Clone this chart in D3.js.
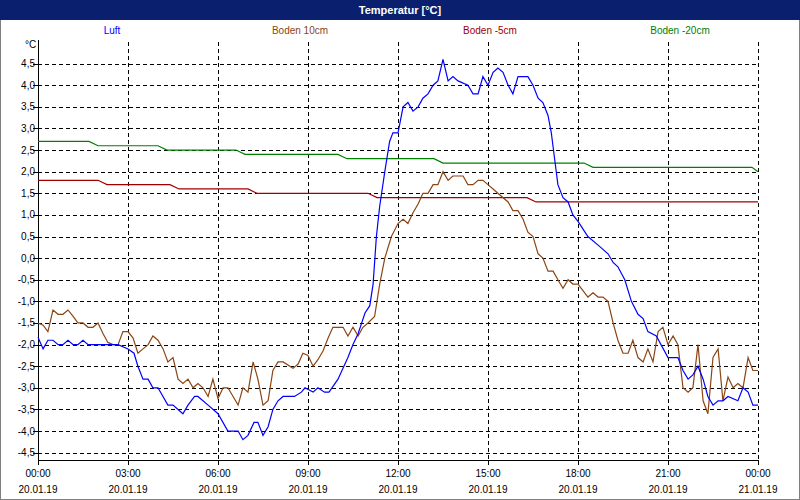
<!DOCTYPE html>
<html><head><meta charset="utf-8">
<script src="https://cdn.jsdelivr.net/npm/d3@7"></script>
<style>body{margin:0;background:#fff}svg{display:block}text{font-family:"Liberation Sans",Arial,sans-serif;font-size:10px}</style>
</head><body><svg id="c" width="800" height="500"></svg>
<script>
const seriesNames=["Luft","Boden 10cm","Boden -5cm","Boden -20cm"];
const seriesColors=["#0000ff","#8b4513","#a00000","#008000"];
const yTicks=[-4.5,-4,-3.5,-3,-2.5,-2,-1.5,-1,-0.5,0,0.5,1,1.5,2,2.5,3,3.5,4,4.5];
const xTickHours=[0,3,6,9,12,15,18,21,24];
const xTimeLabels=["00:00","03:00","06:00","09:00","12:00","15:00","18:00","21:00","00:00"];
const xDateLabels=["20.01.19","20.01.19","20.01.19","20.01.19","20.01.19","20.01.19","20.01.19","20.01.19","21.01.19"];
const luft=[[0,-1.83],[0.17,-2.1],[0.33,-1.9],[0.5,-1.9],[0.67,-2.0],[0.83,-2.0],[1,-1.9],[1.17,-2.0],[1.33,-2.0],[1.5,-1.9],[1.67,-2.0],[2.67,-2.0],[3,-2.1],[3.2,-2.2],[3.33,-2.5],[3.5,-2.8],[3.67,-2.8],[3.83,-3.0],[4,-3.0],[4.33,-3.4],[4.5,-3.4],[4.83,-3.6],[5,-3.4],[5.22,-3.2],[5.33,-3.2],[5.67,-3.4],[6,-3.6],[6.33,-4.0],[6.67,-4.0],[6.83,-4.2],[7,-4.1],[7.2,-3.8],[7.33,-3.8],[7.5,-4.1],[7.67,-3.9],[7.83,-3.5],[8,-3.3],[8.17,-3.2],[8.55,-3.2],[8.78,-3.1],[8.9,-3.0],[9.17,-3.1],[9.33,-3.0],[9.55,-3.1],[9.7,-3.1],[10,-2.8],[10.33,-2.3],[10.5,-2.0],[10.67,-1.75],[10.9,-1.27],[11.06,-1.1],[11.17,-0.6],[11.28,0.5],[11.39,1.2],[11.56,2.0],[11.72,2.7],[11.83,2.9],[12,2.9],[12.17,3.5],[12.33,3.6],[12.5,3.4],[12.67,3.5],[12.83,3.7],[13,3.8],[13.17,4.0],[13.33,4.1],[13.5,4.6],[13.67,4.1],[13.83,4.2],[14,4.1],[14.33,4.0],[14.5,3.8],[14.67,3.8],[14.83,4.2],[15,4.0],[15.17,4.3],[15.33,4.4],[15.5,4.3],[15.67,4.0],[15.83,3.8],[16,4.2],[16.33,4.2],[16.5,4.0],[16.67,3.7],[16.83,3.6],[17,3.3],[17.11,2.9],[17.22,2.3],[17.33,1.7],[17.5,1.4],[17.67,1.3],[17.83,1.0],[18,0.85],[18.33,0.5],[18.67,0.3],[19,0.1],[19.17,-0.1],[19.33,-0.2],[19.56,-0.5],[19.78,-1.0],[20,-1.3],[20.17,-1.4],[20.33,-1.7],[20.61,-1.8],[21,-2.3],[21.33,-2.3],[21.5,-2.6],[21.67,-2.8],[21.83,-2.7],[22,-2.5],[22.17,-2.8],[22.33,-3.2],[22.5,-3.4],[22.67,-3.3],[22.83,-3.3],[23,-3.2],[23.33,-3.3],[23.5,-3.0],[23.67,-3.1],[23.83,-3.4],[24,-3.4]];
const boden10=[[0,-1.5],[0.17,-1.55],[0.33,-1.7],[0.5,-1.2],[0.67,-1.3],[0.83,-1.3],[1,-1.2],[1.17,-1.35],[1.33,-1.5],[1.5,-1.5],[1.67,-1.6],[1.83,-1.6],[2,-1.5],[2.17,-1.75],[2.33,-1.95],[2.5,-2.0],[2.67,-2.0],[2.83,-1.7],[3,-1.7],[3.17,-1.85],[3.33,-2.2],[3.5,-2.1],[3.67,-2.0],[3.83,-1.8],[4,-1.9],[4.17,-2.1],[4.33,-2.4],[4.5,-2.3],[4.67,-2.8],[4.83,-2.9],[5,-2.8],[5.17,-3.0],[5.33,-2.9],[5.5,-3.0],[5.67,-3.2],[5.83,-2.8],[6,-3.25],[6.17,-3.0],[6.33,-3.0],[6.67,-3.4],[6.83,-3.0],[7,-3.1],[7.17,-2.4],[7.33,-2.8],[7.5,-3.4],[7.67,-3.3],[7.83,-2.6],[8,-2.4],[8.17,-2.4],[8.5,-2.55],[8.67,-2.45],[8.83,-2.2],[9,-2.25],[9.17,-2.5],[9.33,-2.35],[9.5,-2.15],[9.67,-1.85],[9.83,-1.6],[10.17,-1.6],[10.33,-1.8],[10.5,-1.6],[10.67,-1.8],[10.83,-1.6],[11,-1.5],[11.22,-1.35],[11.39,-0.6],[11.56,0.0],[11.78,0.5],[12,0.8],[12.17,0.9],[12.33,0.8],[12.5,1.05],[12.67,1.25],[12.83,1.5],[13,1.5],[13.17,1.7],[13.33,1.7],[13.5,2.0],[13.67,1.8],[13.83,1.9],[14.17,1.9],[14.33,1.7],[14.5,1.7],[14.67,1.8],[14.83,1.8],[15,1.7],[15.17,1.6],[15.33,1.5],[15.67,1.3],[15.83,1.1],[16,1.1],[16.17,0.9],[16.33,0.6],[16.5,0.5],[16.67,0.1],[16.83,0.0],[17,-0.3],[17.17,-0.3],[17.33,-0.5],[17.5,-0.7],[17.67,-0.5],[17.83,-0.6],[18,-0.6],[18.33,-0.9],[18.5,-0.8],[18.67,-0.9],[18.83,-0.9],[19,-1.0],[19.17,-1.5],[19.33,-1.9],[19.5,-2.2],[19.67,-2.2],[19.83,-1.9],[20,-2.3],[20.17,-2.4],[20.33,-2.1],[20.5,-2.4],[20.67,-1.7],[20.83,-1.6],[21,-2.0],[21.17,-1.8],[21.33,-2.0],[21.5,-3.0],[21.67,-3.1],[21.83,-3.0],[22,-2.0],[22.17,-3.3],[22.33,-3.6],[22.5,-2.3],[22.67,-2.1],[22.83,-3.3],[23,-2.75],[23.17,-3.0],[23.33,-2.9],[23.5,-3.0],[23.67,-2.3],[23.83,-2.6],[24,-2.6]];
const boden5=[[0,1.8],[2,1.8],[2.3,1.7],[4.4,1.7],[4.7,1.6],[7,1.6],[7.3,1.5],[11,1.5],[11.3,1.4],[16.3,1.4],[16.6,1.3],[24,1.3]];
const boden20=[[0,2.7],[1.7,2.7],[2,2.6],[4,2.6],[4.3,2.5],[6.6,2.5],[6.9,2.4],[10,2.4],[10.3,2.3],[13.2,2.3],[13.5,2.2],[18.2,2.2],[18.5,2.1],[23.8,2.1],[24,2.0]];
const seriesData=[luft,boden10,boden5,boden20];

const svg=d3.select("#c");
svg.append("rect").attr("x",0.5).attr("y",0.5).attr("width",799).attr("height",499).attr("fill","#fff").attr("stroke","#808080");
svg.append("rect").attr("x",0).attr("y",0).attr("width",800).attr("height",20).attr("fill","#0a1f6e");
svg.append("text").attr("x",400).attr("y",14).attr("text-anchor","middle").attr("fill","#fff").style("font-weight","bold").style("font-size","11px").text("Temperatur [°C]");
const legX=[112,300,490,680];
seriesNames.forEach((n,i)=>svg.append("text").attr("x",legX[i]).attr("y",34).attr("text-anchor","middle").attr("fill",seriesColors[i]).text(n));
svg.append("text").attr("x",25).attr("y",48).text("°C");

const x=d3.scaleLinear().domain([0,24]).range([38,758]);
const y=d3.scaleLinear().domain([-4.67,5.0]).range([460,42]);
const fmt=v=>d3.format(".1f")(v).replace(".",",").replace("−","-");

const g=svg.append("g");
yTicks.forEach(t=>{
  g.append("line").attr("x1",38).attr("x2",758).attr("y1",Math.round(y(t))+0.5).attr("y2",Math.round(y(t))+0.5).attr("stroke","#000").attr("stroke-dasharray","4,3");
  g.append("line").attr("x1",33).attr("x2",38).attr("y1",Math.round(y(t))+0.5).attr("y2",Math.round(y(t))+0.5).attr("stroke","#000");
  g.append("text").attr("x",35).attr("y",y(t)+3.5).attr("text-anchor","end").text(fmt(t));
});
xTickHours.forEach((h,i)=>{
  const px=Math.round(x(h))+0.5;
  if(i>0) g.append("line").attr("x1",px).attr("x2",px).attr("y1",42).attr("y2",460).attr("stroke","#000").attr("stroke-dasharray","4,3");
  g.append("line").attr("x1",px).attr("x2",px).attr("y1",460).attr("y2",465).attr("stroke","#000");
  g.append("text").attr("x",x(h)).attr("y",477).attr("text-anchor","middle").text(xTimeLabels[i]);
  g.append("text").attr("x",x(h)).attr("y",493).attr("text-anchor","middle").text(xDateLabels[i]);
});
g.append("line").attr("x1",38.5).attr("x2",38.5).attr("y1",40).attr("y2",460).attr("stroke","#000");
g.append("line").attr("x1",38).attr("x2",759).attr("y1",460.5).attr("y2",460.5).attr("stroke","#000");

const line=d3.line().x(d=>x(d[0])).y(d=>y(d[1]));
[3,2,1,0].forEach(i=>svg.append("path").attr("d",line(seriesData[i])).attr("fill","none").attr("stroke",seriesColors[i]).attr("stroke-width",1.2));
</script></body></html>
